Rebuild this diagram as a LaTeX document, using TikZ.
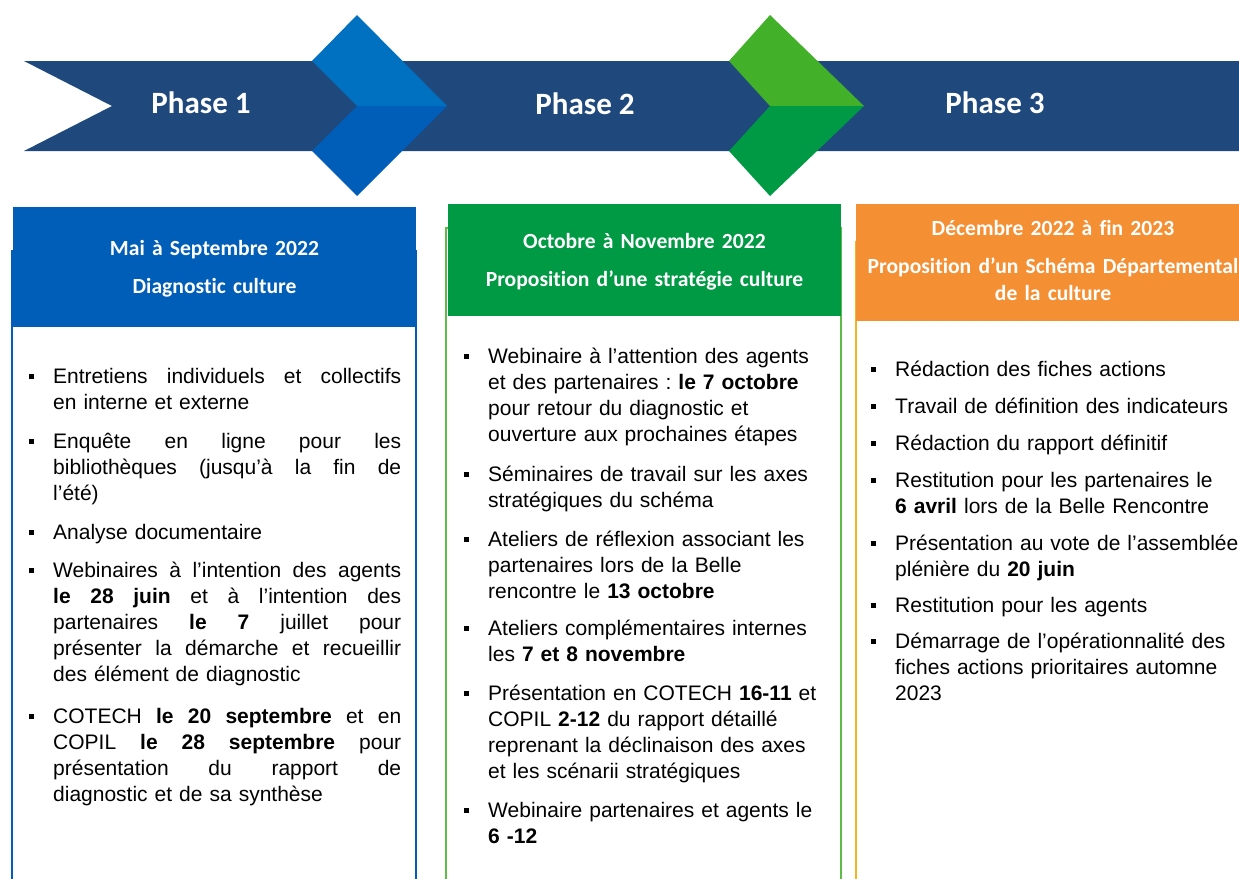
\documentclass[tikz,border=0pt]{standalone}
\usepackage{fontspec}
\setmainfont{Liberation Sans}
\newfontfamily\calibri[Ligatures=NoCommon]{Carlito}
\usepackage{xcolor}
\usetikzlibrary{positioning}
\frenchspacing

\definecolor{bandeau}{HTML}{1F497D}
\definecolor{bleuA}{HTML}{0070C0}
\definecolor{bleuB}{HTML}{005EB8}
\definecolor{vertA}{HTML}{43B02A}
\definecolor{vertB}{HTML}{009A44}
\definecolor{vertC}{HTML}{5DBB46}
\definecolor{orangeA}{HTML}{F58F33}
\definecolor{orangeB}{HTML}{F5B31F}

\newcommand{\puce}{\llap{\rule[4.5pt]{5pt}{5pt}\hspace{19.5pt}}}
\newcommand{\jl}[1]{\makebox[348pt][s]{\spaceskip=0pt\xspaceskip=0pt #1}}

\begin{document}
\begin{tikzpicture}[x=1pt,y=-1pt,
    phase/.style={text=white,font=\calibri\bfseries\fontsize{31}{37}\selectfont,anchor=base,inner sep=0pt},
    titre/.style={text=white,font=\calibri\bfseries\fontsize{21.6}{27}\selectfont,anchor=base,inner sep=0pt,text width=400pt,align=center},
    puces/.style={anchor=base west,inner sep=0pt,text width=#1,align=left,font=\fontsize{21}{26}\selectfont},
    puces/.default=360pt]
  \useasboundingbox (0,0) rectangle (1239,878);
  \clip (0,0) rectangle (1239,878);
  % bandeau et chevrons
  \fill[bandeau] (24,61) -- (1260,61) -- (1260,151) -- (24,151) -- (112,106) -- cycle;
  \fill[bleuA] (312,61) -- (357,15) -- (447,106) -- (357,106) -- cycle;
  \fill[bleuB] (357,106) -- (447,106) -- (357,196) -- (312,151) -- cycle;
  \fill[vertA] (729,61) -- (770,15) -- (864,106) -- (770,106) -- cycle;
  \fill[vertB] (770,106) -- (864,106) -- (770,196) -- (729,151) -- cycle;
  \node[phase] (p1) at (201,113) {Phase 1};
  \node[phase] (p2) at (585,114) {Phase 2};
  \node[phase] (p3) at (995,113) {Phase 3};

  % cadres
  \draw[bleuB,line width=2pt] (12,251) rectangle (416,900);
  \draw[vertC,line width=2pt] (446,228) rectangle (841,900);
  \draw[orangeB,line width=2pt] (856,242) rectangle (1260,900);
  \fill[bleuB] (13,207) rectangle (416,327);
  \fill[vertB] (448,204) rectangle (841,316);
  \fill[orangeA] (856,204) rectangle (1260,321);

  \node[titre] (t1a) at (214.5,255) {Mai à Septembre 2022};
  \node[titre] (t1b) at (214.5,293) {Diagnostic culture};
  \node[titre] (t2a) at (644.5,248) {Octobre à Novembre 2022};
  \node[titre] (t2b) at (644.5,286) {Proposition d’une stratégie culture};
  \node[titre] (t3a) at (1053,235) {Décembre 2022 à fin 2023};
  \node[titre] (t3b) at (1053,273) {Proposition d’un Schéma Départemental\\de la culture};

  % phase 1
  \node[puces=348pt] (d1) at (53,383) {\puce\jl{Entretiens individuels et collectifs}\\en interne et externe};
  \node[puces=348pt] (d2) at (53,448) {\puce\jl{Enquête en ligne pour les}\\\jl{bibliothèques (jusqu’à la fin de}\\l’été)};
  \node[puces=348pt] (d3) at (53,539) {\puce Analyse documentaire};
  \node[puces=348pt] (d4) at (53,577) {\puce\jl{Webinaires à l’intention des agents}\\\jl{\textbf{le 28 juin} et à l’intention des}\\\jl{partenaires \textbf{le 7} juillet pour}\\\jl{présenter la démarche et recueillir}\\des élément de diagnostic};
  \node[puces=348pt] (d5) at (53,723) {\puce\jl{COTECH \textbf{le 20 septembre} et en}\\\jl{COPIL \textbf{le 28 septembre} pour}\\\jl{présentation du rapport de}\\diagnostic et de sa synthèse};

  % phase 2
  \node[puces] (s1) at (488,363) {\puce Webinaire à l’attention des agents\\et des partenaires : \textbf{le 7 octobre}\\pour retour du diagnostic et\\ouverture aux prochaines étapes};
  \node[puces] (s2) at (488,481) {\puce Séminaires de travail sur les axes\\stratégiques du schéma};
  \node[puces] (s3) at (488,546) {\puce Ateliers de réflexion associant les\\partenaires lors de la Belle\\rencontre le \textbf{13 octobre}};
  \node[puces] (s4) at (488,635) {\puce Ateliers complémentaires internes\\les \textbf{7 et 8 novembre}};
  \node[puces] (s5) at (488,700) {\puce Présentation en COTECH \textbf{16-11} et\\COPIL \textbf{2-12} du rapport détaillé\\reprenant la déclinaison des axes\\et les scénarii stratégiques};
  \node[puces] (s6) at (488,817) {\puce Webinaire partenaires et agents le\\\textbf{6 -12}};

  % phase 3
  \node[puces] (r1) at (895,376) {\puce Rédaction des fiches actions};
  \node[puces] (r2) at (895,413) {\puce Travail de définition des indicateurs};
  \node[puces] (r3) at (895,450) {\puce Rédaction du rapport définitif};
  \node[puces] (r4) at (895,487) {\puce Restitution pour les partenaires le\\\textbf{6 avril} lors de la Belle Rencontre};
  \node[puces] (r5) at (895,550) {\puce Présentation au vote de l’assemblée\\plénière du \textbf{20 juin}};
  \node[puces] (r6) at (895,612) {\puce Restitution pour les agents};
  \node[puces] (r7) at (895,648) {\puce Démarrage de l’opérationnalité des\\fiches actions prioritaires automne\\2023};
\end{tikzpicture}
\end{document}
